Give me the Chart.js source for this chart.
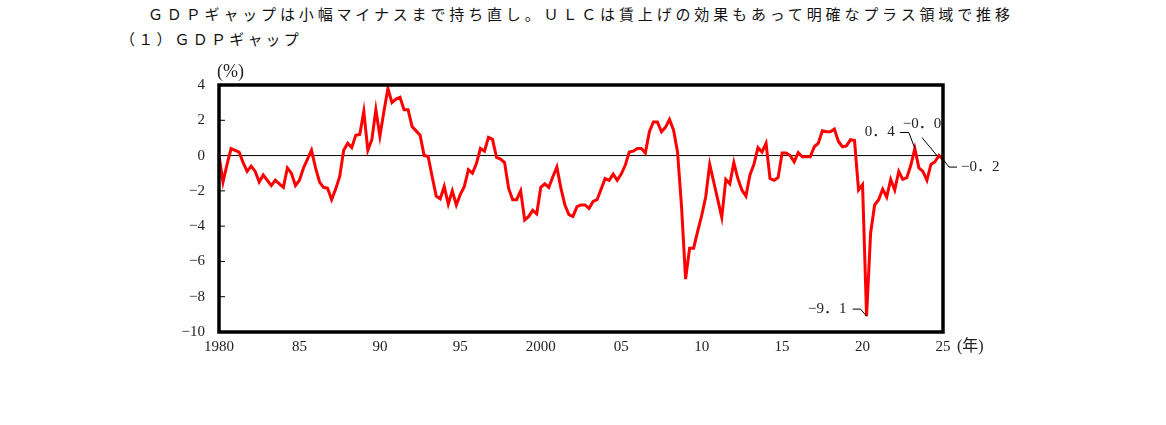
<!DOCTYPE html>
<html lang="ja">
<head>
<meta charset="utf-8">
<script src="https://cdn.jsdelivr.net/npm/chart.js@4.4.1/dist/chart.umd.min.js"></script>
<style>
  body { margin: 0; width: 1166px; height: 425px; background: #fff; position: relative; overflow: hidden; }
  .title { position: absolute; font-family: "Noto Sans CJK JP", sans-serif; font-size: 15px; letter-spacing: 3.85px; color: #111; white-space: nowrap; line-height: 20px; }
  #wrap { position: absolute; left: 0; top: 0; width: 1166px; height: 425px; }
</style>
</head>
<body>
<div class="title" style="left:148px; top:4px;">ＧＤＰギャップは小幅マイナスまで持ち直し。ＵＬＣは賃上げの効果もあって明確なプラス領域で推移</div>
<div class="title" style="left:120px; top:29px; letter-spacing:3.2px;">（１）ＧＤＰギャップ</div>
<div id="wrap"><canvas id="gapChart" width="1166" height="425"></canvas></div>
<script>
// quarterly series, 1980Q1 .. 2025Q1
const startYear = 1980;
const endYear = 2025;

// GDP gap (%)
const gdpGap = [
  0.0, -1.5, -0.5, 0.4,      // 1980
  0.3, 0.2, -0.4, -0.9,      // 1981
  -0.6, -0.9, -1.5, -1.1,    // 1982
  -1.4, -1.7, -1.4, -1.6,    // 1983
  -1.8, -0.7, -1.0, -1.7,    // 1984
  -1.4, -0.7, -0.2, 0.3,     // 1985
  -0.7, -1.5, -1.8, -1.85,   // 1986
  -2.5, -1.9, -1.2, 0.3,     // 1987
  0.7, 0.45, 1.15, 1.2,      // 1988
  2.5, 0.3, 0.9, 2.6,        // 1989
  1.1, 2.5, 3.8, 3.0,        // 1990
  3.2, 3.3, 2.6, 2.6,        // 1991
  1.65, 1.4, 1.15, 0.0,      // 1992
  -0.05, -1.2, -2.3, -2.45,  // 1993
  -1.75, -2.75, -2.0, -2.8,  // 1994
  -2.2, -1.75, -0.8, -1.0,   // 1995
  -0.45, 0.4, 0.25, 1.03,    // 1996
  0.92, -0.1, -0.2, -0.4,    // 1997
  -1.85, -2.5, -2.5, -2.0,   // 1998
  -3.65, -3.45, -3.1, -3.3,  // 1999
  -1.8, -1.6, -1.8, -1.2,    // 2000
  -0.65, -1.85, -2.8, -3.35, // 2001
  -3.45, -2.9, -2.8, -2.8,   // 2002
  -3.0, -2.6, -2.5, -1.9,    // 2003
  -1.3, -1.4, -1.05, -1.4,   // 2004
  -1.05, -0.55, 0.2, 0.25,   // 2005
  0.4, 0.4, 0.15, 1.35,      // 2006
  1.9, 1.9, 1.35, 1.6,       // 2007
  2.05, 1.45, 0.2, -2.9,     // 2008
  -7.0, -5.25, -5.25, -4.3,  // 2009
  -3.4, -2.35, -0.5, -1.5,   // 2010
  -2.5, -3.5, -1.35, -1.6,   // 2011
  -0.4, -1.3, -1.95, -2.3,   // 2012
  -1.1, -0.5, 0.45, 0.2,     // 2013
  0.7, -1.3, -1.4, -1.25,    // 2014
  0.15, 0.15, 0.0, -0.35,    // 2015
  0.17, -0.07, -0.07, -0.07, // 2016
  0.5, 0.7, 1.4, 1.35,       // 2017
  1.35, 1.5, 0.8, 0.5,       // 2018
  0.55, 0.9, 0.85, -1.95,    // 2019
  -1.65, -9.1, -4.4, -2.8,   // 2020
  -2.5, -1.9, -2.35, -1.35,  // 2021
  -1.95, -0.9, -1.35, -1.25, // 2022
  -0.55, 0.4, -0.7, -0.9,    // 2023
  -1.4, -0.5, -0.35, -0.0,   // 2024
  -0.2                       // 2025
];

// y axis ticks
const yTicks = [4, 2, 0, -2, -4, -6, -8, -10];

// labelled points: quarter label and the text shown
const calloutKeys = ["2020Q2", "2023Q2", "2024Q4", "2025Q1"];
const calloutTexts = ["−9．1", "0．4", "−0．0", "−0．2"];

// category labels
const quarters = [];
for (let y = startYear; y <= endYear; y++) {
  for (let q = 1; q <= 4; q++) {
    if (y === endYear && q > 1) break;
    quarters.push(y + "Q" + q);
  }
}

const serif = "'Liberation Serif', 'Noto Sans CJK JP', serif";

const framePlugin = {
  id: "frame",
  beforeDatasetsDraw(chart) {
    const { ctx, chartArea: a, scales } = chart;
    const y0 = scales.y.getPixelForValue(0);
    ctx.save();
    ctx.strokeStyle = "#000";
    ctx.lineWidth = 1;
    ctx.beginPath();
    ctx.moveTo(a.left, y0);
    ctx.lineTo(a.right, y0);
    // short ticks pointing into the plot
    yTicks.forEach((v) => {
      const p = scales.y.getPixelForValue(v);
      ctx.moveTo(a.left, p);
      ctx.lineTo(a.left + 6, p);
    });
    ctx.stroke();
    ctx.restore();
  },
  afterDatasetsDraw(chart) {
    const { ctx, chartArea: a } = chart;
    ctx.save();
    ctx.strokeStyle = "#000";
    ctx.lineWidth = 3.5;
    ctx.strokeRect(a.left, a.top, a.right - a.left, a.bottom - a.top);

    // unit labels
    ctx.fillStyle = "#222";
    ctx.font = "18px " + serif;
    ctx.textBaseline = "middle";
    ctx.textAlign = "left";
    ctx.fillText("(%)", a.left - 2, 72);
    ctx.font = "16px " + serif;
    ctx.fillText("(年)", a.right + 14, 347);

    // callouts with leader lines
    const meta = chart.getDatasetMeta(0);
    ctx.lineWidth = 1;
    ctx.font = "15px " + serif;
    calloutKeys.forEach((key, k) => {
      const pt = meta.data[quarters.indexOf(key)];
      const x = pt.x, y = pt.y;
      const txt = calloutTexts[k];
      ctx.beginPath();
      if (k === 0) {
        ctx.moveTo(x - 14, y - 7); ctx.lineTo(x - 6, y - 7); ctx.lineTo(x, y);
        ctx.textAlign = "right"; ctx.fillText(txt, x - 20, y - 7);
      } else if (k === 1) {
        ctx.moveTo(x - 15, y - 16); ctx.lineTo(x - 6, y - 16); ctx.lineTo(x, y);
        ctx.textAlign = "right"; ctx.fillText(txt, x - 20, y - 16);
      } else if (k === 2) {
        ctx.moveTo(x - 17, y - 18); ctx.lineTo(x - 2, y);
        ctx.textAlign = "center"; ctx.fillText(txt, x - 17, y - 32);
      } else {
        ctx.moveTo(x, y); ctx.lineTo(x + 6, y + 8); ctx.lineTo(x + 14, y + 8);
        ctx.textAlign = "left"; ctx.fillText(txt, x + 18, y + 8);
      }
      ctx.stroke();
    });
    ctx.restore();
  },
};

const ctx = document.getElementById("gapChart").getContext("2d");
new Chart(ctx, {
  type: "line",
  data: {
    labels: quarters,
    datasets: [
      {
        label: "GDPギャップ",
        data: gdpGap,
        borderColor: "#ff0000",
        borderWidth: 3,
        pointRadius: 0,
        tension: 0,
        fill: false,
      },
    ],
  },
  options: {
    responsive: false,
    animation: false,
    layout: { padding: { top: 85, right: 223, bottom: 0, left: 0 } },
    plugins: {
      legend: { display: false },
      tooltip: { enabled: false },
    },
    scales: {
      x: {
        type: "category",
        offset: false,
        grid: { display: false, drawTicks: false },
        border: { display: false },
        afterFit: (scale) => { scale.height = 93; },
        ticks: {
          autoSkip: false,
          maxRotation: 0,
          padding: 6,
          color: "#222",
          font: { family: serif, size: 15 },
          callback: function (value, index) {
            const lab = quarters[index];
            if (!lab.endsWith("Q1")) return "";
            const yr = parseInt(lab, 10);
            if (yr % 5 !== 0) return "";
            if (yr === startYear || yr === 2000) return String(yr);
            return String(yr).slice(2);
          },
        },
      },
      y: {
        min: -10,
        max: 4,
        grid: { display: false, drawTicks: false },
        border: { display: false },
        afterFit: (scale) => { scale.width = 219; },
        afterBuildTicks: (scale) => { scale.ticks = yTicks.map((v) => ({ value: v })); },
        ticks: {
          padding: 14,
          color: "#222",
          font: { family: serif, size: 15 },
          callback: (v) => String(v).replace("-", "−"),
        },
      },
    },
  },
  plugins: [framePlugin],
});
</script>
</body>
</html>
